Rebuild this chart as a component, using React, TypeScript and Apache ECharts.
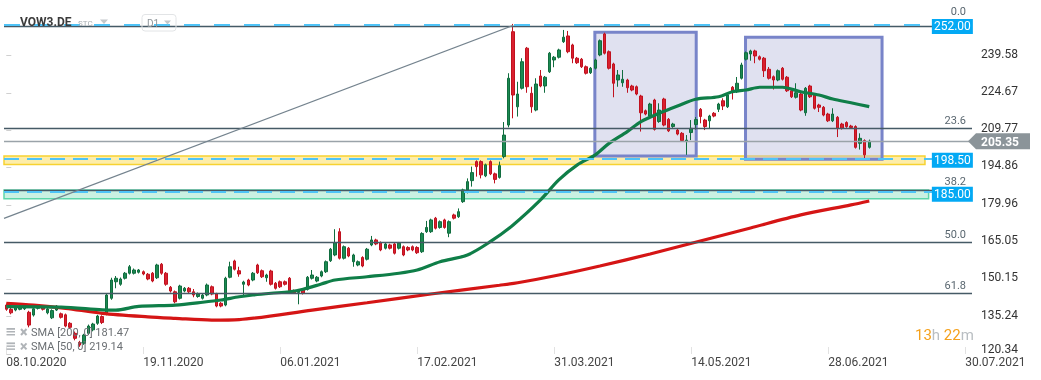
import React, { useEffect, useRef } from "react";
import * as echarts from "echarts";

// ---------- data ----------
const tickLabels = ["08.10.2020", "19.11.2020", "06.01.2021", "17.02.2021", "31.03.2021", "14.05.2021", "28.06.2021", "30.07.2021"];
const tickEvery = 30;
const slotCount = 212;
const priceTicks = [120.34, 135.24, 150.15, 165.05, 179.96, 194.86, 209.77, 224.67, 239.58];
const yMin = 120.34;
const yMax = 254.49;

// [open, close, low, high]
const candles = [
  [139.9,138.2,137.6,140.5],[138.2,136.8,136.2,138.8],[137.9,139.0,137.4,139.6],[138.2,139.2,137.8,139.8],[138.4,139.5,137.9,140.1],
  [137.0,131.9,131.0,137.6],[135.9,138.4,135.3,139.0],[138.6,139.5,138.1,140.0],[139.2,138.2,137.7,139.7],[136.8,138.3,136.2,138.8],
  [134.8,137.7,134.3,138.2],[137.9,139.4,137.5,139.9],[136.4,135.0,134.5,136.9],[136.0,131.5,131.0,136.5],[132.6,131.0,130.4,133.1],
  [128.6,126.6,125.8,129.3],[125.0,123.9,123.2,125.6],[124.6,127.9,124.0,128.4],[128.6,131.5,128.0,132.1],[130.0,132.3,129.4,132.8],
  [132.6,135.5,132.0,136.0],[135.3,132.9,132.3,135.8],[136.6,143.9,135.8,144.5],[142.6,149.9,142.0,150.8],[149.2,150.6,146.6,151.5],
  [148.2,150.3,147.6,150.9],[150.6,152.6,150.1,153.1],[152.6,155.2,152.1,155.9],[152.6,153.9,152.1,154.5],[153.0,153.9,152.5,154.3],
  [153.2,152.3,151.8,153.7],[152.2,150.3,149.8,152.7],[152.6,149.5,149.0,153.1],[150.8,155.9,150.3,156.4],[156.2,152.6,152.0,156.7],
  [152.6,148.2,147.6,153.1],[147.0,145.5,144.9,147.5],[145.2,141.2,140.6,145.7],[142.6,147.5,142.1,148.0],[145.5,146.6,145.0,147.1],
  [146.6,145.2,144.7,147.1],[145.2,143.9,143.0,146.3],[143.3,144.3,142.8,144.9],[142.6,143.9,142.1,144.4],[143.9,147.9,143.4,148.5],
  [147.2,144.3,143.8,147.7],[144.3,139.5,139.0,144.8],[140.6,139.5,139.0,141.1],[139.9,150.6,139.4,151.2],[151.0,155.2,150.6,157.2],
  [157.5,154.2,153.7,158.0],[153.6,152.3,151.2,155.2],[148.2,149.1,143.9,149.6],[149.9,147.9,147.4,150.4],[149.9,152.6,149.4,153.1],
  [155.9,152.8,152.3,156.4],[153.6,151.2,150.7,154.1],[150.8,151.9,149.2,152.4],[153.5,148.2,147.7,154.0],[148.6,146.6,146.1,149.1],
  [149.2,147.2,146.7,149.7],[149.2,148.2,147.7,149.7],[150.6,145.6,145.1,151.1],[145.6,144.8,144.3,146.1],[144.9,145.5,140.2,146.0],
  [146.2,144.6,144.1,146.7],[146.2,151.0,145.7,151.5],[150.6,151.9,150.1,153.9],[149.5,151.0,149.0,151.5],[151.5,153.2,151.0,153.7],
  [153.2,157.2,152.7,157.7],[157.6,162.2,157.1,162.7],[159.9,164.8,159.4,170.2],[169.2,158.6,158.1,170.6],[158.6,163.2,158.1,163.7],
  [162.6,159.5,159.0,163.1],[157.2,159.9,155.2,160.4],[155.9,157.2,155.4,157.7],[158.9,155.5,155.0,159.4],[158.2,162.2,157.7,162.7],
  [163.9,165.9,163.4,167.5],[165.9,164.3,163.8,166.4],[164.8,161.9,161.4,165.3],[162.6,164.3,162.1,164.8],[163.9,162.6,162.1,164.4],
  [164.3,160.6,160.1,164.8],[162.6,164.6,162.1,165.1],[163.2,159.9,159.4,163.7],[162.9,161.9,161.4,163.4],[163.2,161.9,161.4,163.7],
  [162.9,160.8,160.3,163.4],[161.2,168.5,160.7,169.0],[169.2,170.9,168.7,173.5],[169.2,173.9,168.7,174.4],[174.6,170.6,170.1,175.1],
  [170.9,173.2,170.4,173.7],[173.9,170.9,170.4,174.4],[168.6,173.2,167.0,173.7],[175.9,174.6,174.1,176.4],[175.2,177.2,174.7,178.5],
  [181.2,185.9,180.7,186.4],[185.9,189.2,184.5,190.5],[189.6,192.8,187.2,195.2],[197.2,195.2,191.2,197.7],[197.2,191.9,190.5,197.7],
  [191.5,195.9,191.0,196.4],[197.2,192.3,191.8,197.7],[192.3,190.1,188.5,192.8],[190.9,195.6,190.4,197.2],[199.2,207.8,198.5,213.0],
  [211.8,230.5,210.9,232.5],[249.1,223.8,214.5,252.2],[219.1,224.2,215.2,229.1],[226.5,237.1,226.0,238.5],[242.5,227.1,224.7,243.0],
  [224.5,219.1,216.7,227.1],[217.8,228.2,217.3,230.5],[231.4,227.4,226.9,233.8],[227.4,230.9,224.7,231.4],[233.1,240.5,232.6,241.0],
  [237.8,238.9,234.9,239.4],[238.9,241.8,238.4,242.3],[245.1,246.9,244.6,249.8],[247.4,241.1,240.5,249.4],[243.8,238.5,236.5,244.3],
  [238.5,236.7,236.2,239.0],[238.1,235.1,234.6,238.6],[235.1,232.5,232.0,235.6],[232.7,234.5,232.2,235.0],[234.5,237.8,234.0,238.3],
  [239.8,245.5,239.3,246.0],[248.2,240.5,240.0,248.7],[241.1,234.5,234.0,241.6],[236.2,228.5,222.9,236.7],[229.8,231.8,227.1,233.8],
  [228.7,230.1,227.1,233.8],[229.8,226.7,224.7,230.3],[227.4,225.8,225.3,227.9],[227.1,224.2,223.7,227.6],[223.4,216.7,209.2,223.9],
  [217.5,216.2,215.7,218.0],[215.4,220.2,214.9,220.7],[221.8,210.1,209.6,222.3],[213.2,217.8,212.7,220.5],[222.2,211.8,211.3,222.7],
  [214.1,209.5,209.0,214.6],[211.2,212.2,210.7,212.7],[209.8,208.2,207.7,210.3],[208.5,205.6,205.1,209.0],[205.2,205.8,199.9,207.8],
  [208.8,210.5,205.8,213.8],[212.0,214.0,210.0,215.0],[218.1,215.2,212.5,218.6],[213.8,211.2,209.8,214.3],[213.5,215.4,210.5,215.9],
  [216.5,215.4,214.9,217.0],[218.1,220.2,217.0,220.7],[221.5,219.4,217.8,222.5],[219.1,223.8,218.6,224.3],[226.9,225.1,222.0,227.4],
  [225.1,228.5,224.6,231.0],[230.5,235.8,230.0,236.7],[238.1,240.7,237.6,241.2],[240.2,241.4,237.5,241.9],[241.4,239.4,236.5,241.9],
  [239.1,238.1,237.6,239.6],[238.5,233.5,231.0,239.0],[234.1,230.5,230.0,235.0],[231.1,229.8,226.0,231.6],[229.8,233.5,229.3,234.0],
  [234.5,230.1,229.6,235.0],[230.9,225.5,225.0,231.4],[225.5,223.1,222.6,226.0],[222.9,224.7,222.4,228.5],[224.2,217.8,217.3,224.7],
  [216.7,226.5,215.5,227.0],[227.4,223.1,222.6,227.9],[223.8,218.5,218.0,224.3],[219.8,218.9,217.0,220.3],[218.9,215.8,215.3,219.4],
  [216.2,213.5,213.0,216.7],[213.5,216.2,213.0,218.5],[214.9,210.5,207.0,215.4],[212.2,210.5,210.0,212.7],[212.8,211.2,210.7,213.3],
  [211.4,210.8,210.3,211.9],[211.2,202.9,202.4,211.7],[204.5,206.5,202.0,208.5],[205.6,199.9,198.5,206.1],[202.9,205.35,202.4,206.0],
];

const sma50Idx = [0, 12, 21, 24, 29, 37, 43, 47, 51, 54, 58, 62, 65, 69, 72, 79, 86, 90, 95, 101, 106, 111, 117, 121, 125, 129, 132, 136, 139, 143, 147, 151, 156, 159, 162, 165, 170, 174, 178, 181, 185, 189];
const sma50Val = [139.3, 139.1, 138.0, 137.9, 139.4, 139.9, 141.0, 141.9, 143.2, 143.9, 144.6, 145.2, 146.2, 148.3, 149.9, 151.2, 152.6, 153.9, 157.2, 159.9, 165.2, 171.9, 181.9, 189.9, 195.8, 199.9, 204.5, 209.2, 213.2, 216.5, 219.4, 222.1, 223.1, 225.1, 225.8, 226.9, 226.9, 225.1, 223.8, 222.2, 220.7, 219.14];
const sma200Idx = [0, 6, 13, 21, 31, 37, 45, 51, 67, 79, 93, 108, 112, 121, 130, 141, 152, 163, 174, 185, 189];
const sma200Val = [140.6, 139.9, 138.6, 136.6, 135.2, 134.6, 133.9, 134.1, 137.9, 140.8, 144.3, 147.8, 148.8, 151.9, 155.5, 160.3, 165.5, 170.7, 175.9, 179.9, 181.47];

const fibNames = ["0.0", "23.6", "38.2", "50.0", "61.8"];
const fibPrices = [251.4, 210.6, 185.9, 165.05, 144.7];
const levelPrices = [252.0, 198.5, 185.0];
const lastPrice = 205.35;
const smaLegend = ["SMA [200, 0] 181.47", "SMA [50, 0] 219.14"];
const trendStart = [-0.5, 174.5];
const trendEnd = [111, 251.6];
// [fromIndex, toIndex, lowPrice, highPrice]
const rangeBoxes = [
  [128.9, 151.1, 199.45, 248.9],
  [161.9, 191.8, 198.17, 246.87],
];
const yellowZone = [-0.5, 201.2, 196.0, 199.45];
const greenZone = [-0.5, 202.0, 182.4, 185.9];
const tagIndex = 207.2;

const holidays = new Set(["2020-12-24", "2020-12-25", "2020-12-31", "2021-01-01", "2021-04-02", "2021-04-05"]);
function tradingDays(n: number): string[] {
  const out: string[] = [];
  const d = new Date(Date.UTC(2020, 9, 8));
  while (out.length < n) {
    const wd = d.getUTCDay();
    const iso = d.toISOString().slice(0, 10);
    if (wd !== 0 && wd !== 6 && !holidays.has(iso)) {
      out.push(iso.slice(8, 10) + "." + iso.slice(5, 7) + "." + iso.slice(0, 4));
    }
    d.setUTCDate(d.getUTCDate() + 1);
  }
  return out;
}

const FONT = "Roboto, 'Noto Sans', sans-serif";

export default function App() {
  const ref = useRef<HTMLDivElement>(null);
  useEffect(() => {
    document.body.style.margin = "0";
    const chart = echarts.init(ref.current!, null, { renderer: "svg" });
    const cats = tradingDays(slotCount);
    const showTick = (i: number) => i % tickEvery === 0;
    const fibDistance = (i: number) => (i === 0 ? [6, 9] : i === 2 ? [6, 3] : [6, 2]);

    const option: any = {
      animation: false,
      textStyle: { fontFamily: FONT },
      grid: { left: 4, right: 69, top: 18.2, bottom: 26 },
      xAxis: [
        {
          type: "category",
          data: cats,
          boundaryGap: true,
          axisLine: { show: false },
          axisTick: { show: true, inside: true, length: 7, alignWithLabel: true, interval: showTick, lineStyle: { color: "#e2e2e2" } },
          axisLabel: {
            interval: showTick,
            formatter: (_v: string, i: number) => tickLabels[i / tickEvery] ?? "",
            align: "left",
            margin: 2,
            fontSize: 12,
            color: "#444",
            fontFamily: FONT,
          },
          splitLine: { show: false },
        },
        { type: "value", min: -0.5, max: slotCount - 0.5, show: false },
      ],
      yAxis: {
        type: "value",
        position: "right",
        min: yMin,
        max: yMax,
        splitLine: { show: false },
        axisLine: { show: false },
        axisTick: { show: true, length: 5, customValues: priceTicks, lineStyle: { color: "#d0d0d0" } },
        axisLabel: {
          customValues: priceTicks,
          margin: 9,
          fontSize: 12,
          color: "#333",
          fontFamily: FONT,
          formatter: (v: number) => (Math.abs(v - priceTicks[0]) < 1e-6 ? `{low|${v.toFixed(2)}}` : `{n|${v.toFixed(2)}}`),
          rich: {
            low: { padding: [0, 0, 11, 0], fontSize: 12, color: "#333", fontFamily: FONT },
            n: { padding: [0, 0, 4, 0], fontSize: 12, color: "#333", fontFamily: FONT },
          },
        },
      },
      series: [
        {
          type: "candlestick",
          name: "VOW3.DE",
          xAxisIndex: 0,
          yAxisIndex: 0,
          data: candles,
          barWidth: 3,
          z: 2,
          silent: true,
          itemStyle: { color: "#1b8a52", color0: "#d9202f", borderColor: "#116d3f", borderColor0: "#c0121f", borderWidth: 1 },
        },
        {
          type: "line",
          name: "SMA 200",
          xAxisIndex: 1,
          data: sma200Idx.map((x, i) => [x, sma200Val[i]]),
          symbol: "none",
          smooth: 0.3,
          z: 3,
          silent: true,
          lineStyle: { color: "#d51515", width: 3.2 },
        },
        {
          type: "line",
          name: "SMA 50",
          xAxisIndex: 1,
          data: sma50Idx.map((x, i) => [x, sma50Val[i]]),
          symbol: "none",
          smooth: 0.3,
          z: 3,
          silent: true,
          lineStyle: { color: "#0f7e48", width: 3.2 },
        },
        {
          type: "line",
          name: "levels",
          xAxisIndex: 1,
          data: [],
          z: 3,
          markLine: {
            silent: true,
            symbol: ["none", "none"],
            animation: false,
            data: [
              ...fibPrices.map((p, i) => ({
                yAxis: p,
                lineStyle: { color: "#465a66", width: 1.4, type: "solid" },
                label: { show: true, position: "insideEndTop", formatter: fibNames[i], color: "#5a6770", fontSize: 11, distance: fibDistance(i), fontFamily: FONT },
              })),
              {
                yAxis: lastPrice,
                lineStyle: { color: "#9aa3a9", width: 1.4, type: "solid" },
                label: { show: false },
              },
              ...levelPrices.map((p, i) => ({
                yAxis: p,
                lineStyle: { color: "#4fc3f7", width: 2, type: i === 0 ? [16, 14] : [15, 8] },
                label: { show: false },
              })),
              [
                { coord: trendStart, lineStyle: { color: "#74838e", width: 1.2, type: "solid" }, label: { show: false } },
                { coord: trendEnd },
              ],
            ],
          },
        },
        {
          type: "line",
          name: "zones",
          xAxisIndex: 1,
          data: [],
          z: 4,
          markArea: {
            silent: true,
            data: [
              [
                { xAxis: yellowZone[0], yAxis: yellowZone[2], itemStyle: { color: "rgba(250,210,40,0.4)", borderColor: "#f7d231", borderWidth: 1.5 } },
                { xAxis: yellowZone[1], yAxis: yellowZone[3] },
              ],
              [
                { xAxis: greenZone[0], yAxis: greenZone[2], itemStyle: { color: "rgba(80,210,160,0.3)", borderColor: "#5dd6a9", borderWidth: 1.5 } },
                { xAxis: greenZone[1], yAxis: greenZone[3] },
              ],
            ],
          },
        },
        {
          type: "line",
          name: "ranges",
          xAxisIndex: 1,
          data: [],
          z: 5,
          markArea: {
            silent: true,
            itemStyle: { color: "rgba(186,188,222,0.45)", borderColor: "#7884c9", borderWidth: 3 },
            data: rangeBoxes.map((b) => [
              { xAxis: b[0], yAxis: b[2] },
              { xAxis: b[1], yAxis: b[3] },
            ]),
          },
        },
        {
          type: "line",
          name: "tags",
          xAxisIndex: 1,
          data: [],
          z: 6,
          markPoint: {
            silent: true,
            symbol: "rect",
            symbolSize: [41, 15],
            symbolOffset: [0, 2],
            itemStyle: { color: "#03a9f4" },
            label: { show: true, position: "inside", color: "#fff", fontSize: 12, fontFamily: FONT, formatter: "{b}" },
            data: levelPrices.map((p) => ({ name: p.toFixed(2), coord: [tagIndex, p] })),
          },
        },
      ],
    };
    chart.setOption(option);

    const yLast = chart.convertToPixel({ yAxisIndex: 0 }, lastPrice) as number;
    const h = 8;
    const graphic: any[] = [
      // header
      { type: "text", z: 100, style: { x: 20, y: 22, text: "VOW3.DE", font: `bold 12px ${FONT}`, fill: "#3b3b3b", verticalAlign: "middle" } },
      { type: "text", z: 100, style: { x: 78, y: 23, text: "STC", font: `8px ${FONT}`, fill: "#a7adb2", verticalAlign: "middle" } },
      { type: "polygon", z: 100, shape: { points: [[100, 19.5], [108, 19.5], [104, 24]] }, style: { fill: "#c4c8cb" } },
      { type: "rect", z: 100, shape: { x: 142, y: 14.5, width: 34, height: 16.5, r: 3 }, style: { fill: "none", stroke: "#e2e4e6", lineWidth: 1 } },
      { type: "text", z: 100, style: { x: 147, y: 23, text: "D1", font: `10px ${FONT}`, fill: "#8f969b", verticalAlign: "middle" } },
      { type: "polygon", z: 100, shape: { points: [[164, 20.5], [171, 20.5], [167.5, 24.5]] }, style: { fill: "#c4c8cb" } },
      // current price arrow
      {
        type: "polygon",
        z: 100,
        shape: { points: [[968, yLast], [976, yLast - h], [1030, yLast - h], [1030, yLast + h], [976, yLast + h]] },
        style: { fill: "#8b9499" },
      },
      { type: "text", z: 101, style: { x: 981, y: yLast + 0.5, text: lastPrice.toFixed(2), font: `bold 12px ${FONT}`, fill: "#fff", verticalAlign: "middle" } },
      // timer
      {
        type: "text",
        z: 100,
        style: {
          x: 915,
          y: 334.5,
          text: "{o|13}{g|h }{o|22}{g|m}",
          verticalAlign: "middle",
          font: `15px ${FONT}`,
          fill: "#b9bec2",
          rich: {
            o: { fill: "#f5a11c", fontSize: 15, fontFamily: FONT },
            g: { fill: "#b9bec2", fontSize: 15, fontFamily: FONT },
          },
        },
      },
    ];
    smaLegend.forEach((t, i) => {
      const y = 332.5 + i * 14.4;
      graphic.push(
        { type: "rect", z: 100, shape: { x: 6.5, y: y - 4.5, width: 8.5, height: 1.8 }, style: { fill: "#b0b4b8" } },
        { type: "rect", z: 100, shape: { x: 6.5, y: y - 1.5, width: 8.5, height: 1.5 }, style: { fill: "#b0b4b8" } },
        { type: "rect", z: 100, shape: { x: 6.5, y: y + 1.5, width: 8.5, height: 1.5 }, style: { fill: "#b0b4b8" } },
        { type: "line", z: 100, shape: { x1: 21, y1: y - 3.5, x2: 26.5, y2: y + 2.5 }, style: { stroke: "#b0b4b8", lineWidth: 2 } },
        { type: "line", z: 100, shape: { x1: 21, y1: y + 2.5, x2: 26.5, y2: y - 3.5 }, style: { stroke: "#b0b4b8", lineWidth: 2 } },
        { type: "text", z: 100, style: { x: 31, y, text: t, font: `11px ${FONT}`, fill: "#6b6f73", verticalAlign: "middle" } }
      );
    });
    chart.setOption({ graphic });

    return () => chart.dispose();
  }, []);

  return <div ref={ref} style={{ position: "fixed", left: 0, top: 0, width: 1041, height: 380 }} />;
}
